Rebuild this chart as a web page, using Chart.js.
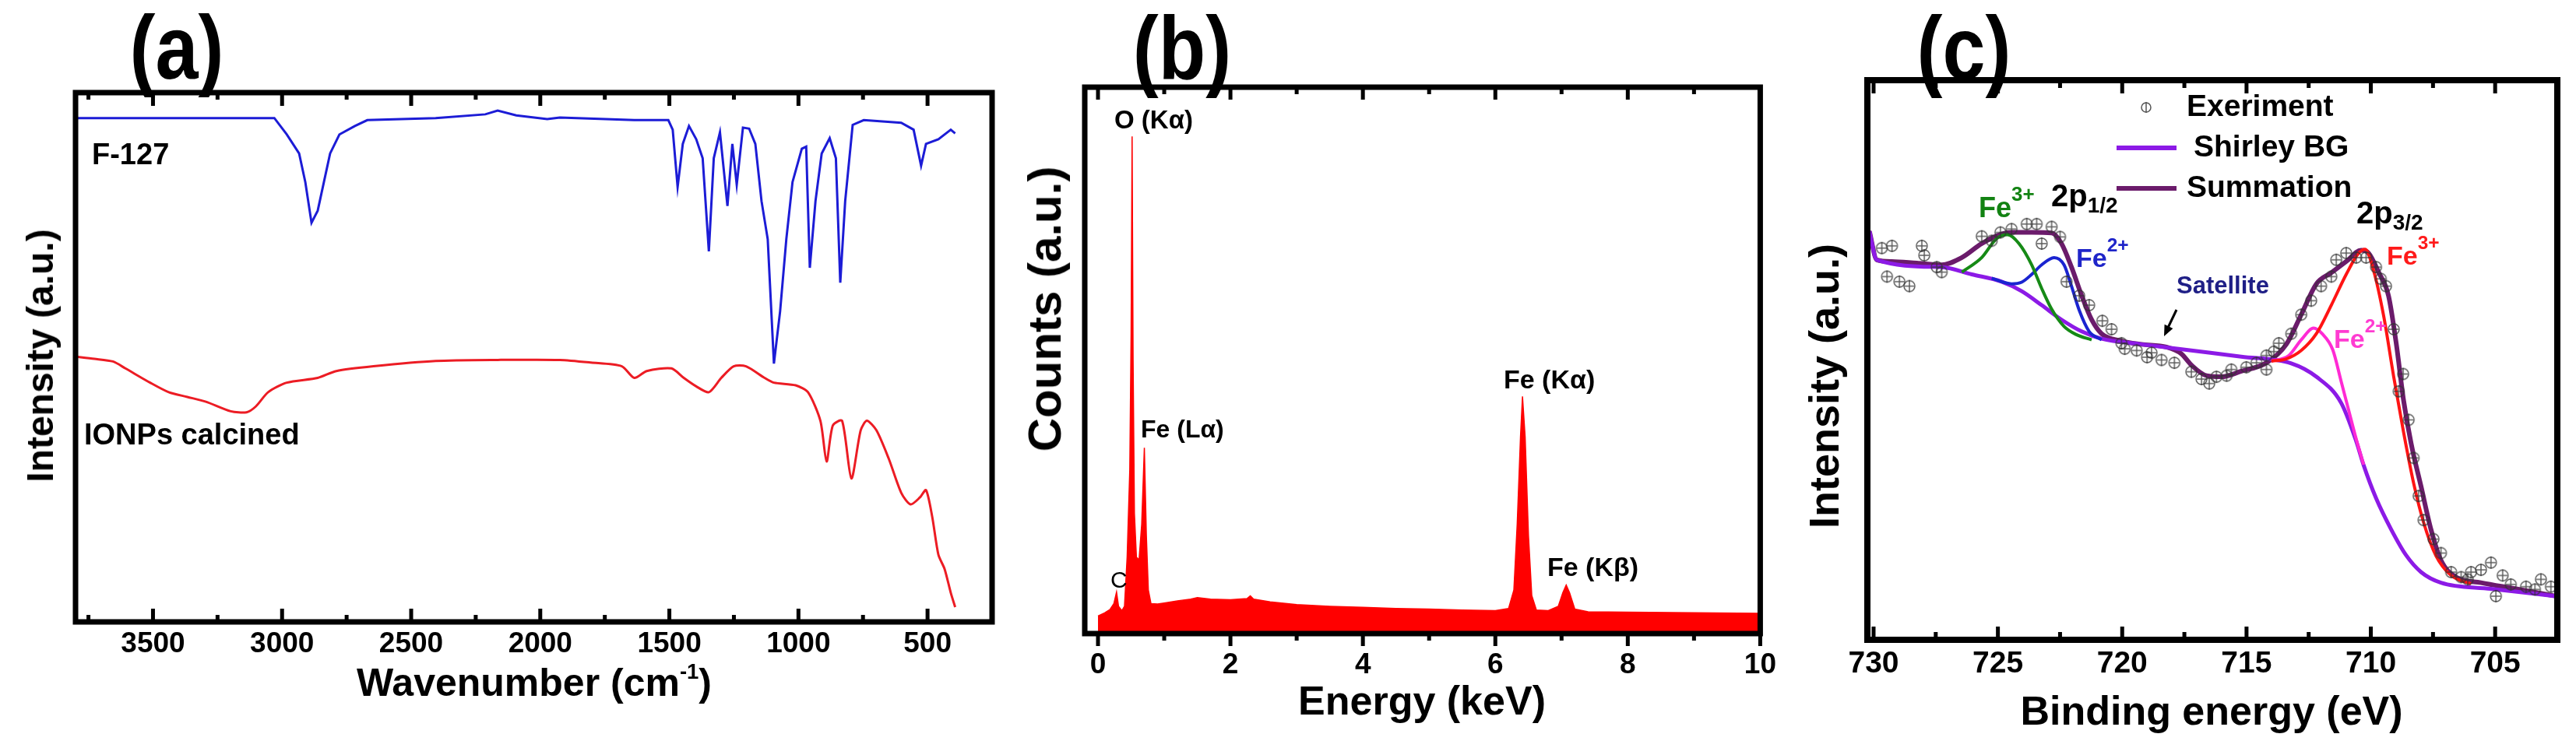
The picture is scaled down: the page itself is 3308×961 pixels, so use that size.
<!DOCTYPE html>
<html>
<head>
<meta charset="utf-8">
<script src="https://cdn.jsdelivr.net/npm/chart.js@4"></script>
<style>
html, body { margin: 0; padding: 0; background: #fff; }
#fig { position: relative; width: 3308px; height: 961px; overflow: hidden;
       font-family: "Liberation Sans", Arial, sans-serif; font-weight: bold; color: #000; }
canvas { position: absolute; top: 0; }
.t { position: absolute; white-space: nowrap; line-height: 1; transform: translateY(-50%); }
.c { position: absolute; white-space: nowrap; line-height: 1; transform: translate(-50%, -50%); }
.v { position: absolute; white-space: nowrap; line-height: 1; transform: translate(-50%, -50%) rotate(-90deg); }
.sup { font-size: 0.72em; position: relative; top: -0.8em; }
.sub { font-size: 0.7em; position: relative; top: 0.3em; }
.lbl { position: absolute; white-space: nowrap; line-height: 1; font-size: 115px;
       transform: translate(-50%, -50%) scaleX(0.86); }
.sw { position: absolute; height: 6px; }
</style>
</head>
<body>
<div id="fig">
  <canvas id="ca" width="1290" height="961" style="left:0"></canvas>
  <canvas id="cb" width="1010" height="961" style="left:1290px"></canvas>
  <canvas id="cc" width="1008" height="961" style="left:2300px"></canvas>

  <!-- panel letters -->
  <div class="lbl" style="left:227px;top:61px">(a)</div>
  <div class="lbl" style="left:1518px;top:62px">(b)</div>
  <div class="lbl" style="left:2522px;top:62px">(c)</div>

  <!-- axis titles -->
  <div class="v" style="left:52px;top:457px;font-size:48px">Intensity (a.u.)</div>
  <div class="c" style="left:686px;top:877px;font-size:50px">Wavenumber (cm<span class="sup" style="font-size:0.55em">-1</span>)</div>
  <div class="v" style="left:1342px;top:397px;font-size:60px">Counts (a.u.)</div>
  <div class="c" style="left:1826px;top:900px;font-size:52px">Energy (keV)</div>
  <div class="v" style="left:2342px;top:496px;font-size:54px">Intensity (a.u.)</div>
  <div class="c" style="left:2840px;top:913px;font-size:52px">Binding energy (eV)</div>

  <!-- (a) labels -->
  <div class="t" style="left:118px;top:198px;font-size:38px">F-127</div>
  <div class="t" style="left:108px;top:558px;font-size:38px">IONPs calcined</div>

  <!-- (b) labels -->
  <div class="t" style="left:1431px;top:153px;font-size:33px">O (Kα)</div>
  <div class="t" style="left:1465px;top:551px;font-size:32px">Fe (Lα)</div>
  <div class="t" style="left:1931px;top:487px;font-size:34px">Fe (Kα)</div>
  <div class="t" style="left:1987px;top:728px;font-size:34px">Fe (Kβ)</div>
  <div class="t" style="left:1426px;top:745px;font-size:30px;font-weight:normal">C</div>

  <!-- (c) legend -->
  <svg style="position:absolute;left:0;top:0" width="3308" height="961">
    <circle cx="2756" cy="138" r="6" fill="none" stroke="#555" stroke-width="1.5"/>
    <line x1="2756" y1="131" x2="2756" y2="145" stroke="#555" stroke-width="1.5"/>
    <line x1="2795" y1="398" x2="2784" y2="421" stroke="#000" stroke-width="3"/>
    <polygon points="2779,432 2790.4,421.9 2779.6,416.7" fill="#000"/>
  </svg>
  <div class="sw" style="left:2718px;top:187px;width:77px;background:#8c1ae6"></div>
  <div class="sw" style="left:2718px;top:239px;width:77px;background:#6b1b6b"></div>
  <div class="t" style="left:2808px;top:135px;font-size:39px">Exeriment</div>
  <div class="t" style="left:2817px;top:187px;font-size:39px">Shirley BG</div>
  <div class="t" style="left:2808px;top:239px;font-size:39px">Summation</div>

  <!-- (c) peak labels -->
  <div class="t" style="left:2541px;top:267px;font-size:36px;color:#128212">Fe<span class="sup">3+</span></div>
  <div class="t" style="left:2634px;top:251px;font-size:40px">2p<span class="sub">1/2</span></div>
  <div class="t" style="left:2666px;top:331px;font-size:34px;color:#1f25c9">Fe<span class="sup">2+</span></div>
  <div class="t" style="left:2795px;top:366px;font-size:31px;color:#1f1f86">Satellite</div>
  <div class="t" style="left:3026px;top:273px;font-size:40px">2p<span class="sub">3/2</span></div>
  <div class="t" style="left:3065px;top:328px;font-size:34px;color:#ff1a1a">Fe<span class="sup">3+</span></div>
  <div class="t" style="left:2997px;top:435px;font-size:34px;color:#ff3bd1">Fe<span class="sup">2+</span></div>
</div>

<script>
// ---- (a) FTIR ----
const ftirTicks = [3500, 3000, 2500, 2000, 1500, 1000, 500];
const ftirMinor = [3750, 3250, 2750, 2250, 1750, 1250, 750];
const f127Wavenumber = [3800,3030,2982,2934,2910,2886,2862,2838,2814,2778,2718,2670,2405,2213,2165,2093,1973,1924,1636,1504,
  1487,1468,1448,1424,1396,1371,1347,1328,1304,1275,1256,1239,1215,1191,1167,1143,1119,1095,1071,1047,
  1023,987,970,956,934,910,879,855,838,819,790,747,602,554,525,506,458,410,393];
const f127Intensity = [95.2,95.2,92.1,88.5,83.1,75.4,77.7,83.1,88.5,92.1,93.7,94.8,95.2,95.9,96.6,95.7,95.0,95.3,94.8,94.8,
  93.0,82.2,90.3,93.7,91.2,87.6,70.0,87.6,92.5,78.6,90.3,82.6,93.4,93.2,90.3,79.5,72.3,48.8,58.7,72.3,
  83.1,89.4,89.8,66.9,79.5,88.5,91.4,87.6,64.1,79.5,93.9,94.8,94.3,93.0,86.2,90.3,91.2,93.0,92.3];
const ionpWavenumber = [3800,3727,3655,3607,3511,3439,3367,3295,3199,3138,3102,3054,2982,2862,2790,2646,2405,2165,1924,1804,
  1684,1636,1588,1492,1444,1396,1347,1299,1251,1203,1131,1095,1011,963,915,891,867,831,795,759,
  735,698,650,602,566,530,506,482,458,434,410,393];
const ionpIntensity = [50.1,49.7,49.2,47.9,45.2,43.4,42.5,41.6,39.8,39.6,40.7,43.4,45.2,46.1,47.4,48.3,49.3,49.5,49.5,49.0,
  48.3,46.1,47.4,47.9,46.1,44.5,43.4,46.1,48.3,48.3,46.1,45.2,44.7,43.4,38.0,30.3,37.1,38.0,27.1,36.2,
  38.0,36.2,30.8,24.4,22.2,23.5,24.9,19.9,12.7,10.0,5.5,2.8];

// ---- (b) EDS ----
const edsTicks = [0, 2, 4, 6, 8, 10];
const edsMinor = [1, 3, 5, 7, 9];
const edsEnergy = [0.00,0.10,0.18,0.24,0.28,0.31,0.36,0.40,0.44,0.48,0.50,0.515,0.53,0.55,0.58,0.62,0.66,0.70,0.73,0.76,0.80,
  0.9,1.0,1.2,1.4,1.5,1.7,2.0,2.25,2.3,2.35,2.6,3.0,3.5,4.0,4.5,5.0,5.5,6.0,6.2,6.28,
  6.33,6.38,6.41,6.45,6.50,6.55,6.62,6.8,6.95,7.02,7.07,7.12,7.2,7.4,8.0,9.0,10.0];
const edsCounts = [3.2,3.8,4.4,5.5,7.6,5.0,4.2,5.0,14,30,55,91,50,22,14,13.5,20,34,18,8,5.5,
  5.4,5.6,6.0,6.3,6.6,6.3,6.2,6.4,6.9,6.3,5.8,5.3,5.0,4.8,4.6,4.5,4.3,4.2,4.6,8,
  20,36,43.4,36,18,7,4.3,4.2,5.0,7.5,8.9,7.5,4.5,4.0,3.9,3.8,3.7];

// ---- (c) XPS Fe 2p ----
const xpsTicks = [730, 725, 720, 715, 710, 705];
const xpsMinor = [727.5, 722.5, 717.5, 712.5, 707.5];
const expBE = [729.67,729.26,729.46,728.96,728.56,728.06,727.96,727.46,727.26,725.65,725.25,
  724.9,724.45,723.84,723.44,722.84,723.24,722.5,722.24,721.73,721.33,720.8,720.43,720.03,
  719.9,719.42,719.0,718.82,718.42,717.9,717.22,716.81,716.5,716.21,715.8,715.61,715.01,714.6,714.20,714.20,
  713.9,713.70,713.20,712.80,712.40,712.00,711.59,711.39,710.99,710.59,710.19,
  709.79,709.6,709.39,709.08,708.88,708.7,708.48,708.28,708.08,707.88,707.48,707.18,
  706.77,706.37,706.1,705.97,705.57,705.17,704.97,704.7,704.37,703.76,703.4,703.16,702.76];
const expIntensity = [70.0,70.4,64.9,64.0,63.2,70.4,68.7,66.6,65.7,72.1,71.3,
  72.8,73.4,74.3,74.3,73.8,70.8,72.0,64.0,61.5,59.8,57.0,55.5,53.0,
  52.0,51.7,50.5,51.3,50.0,49.5,47.9,46.6,45.8,47.0,47.2,48.3,48.7,49.5,48.3,50.8,
  51.5,53.0,54.7,58.1,60.6,63.2,64.9,67.9,69.1,68.3,68.3,
  66.6,64.5,63.2,55.5,44.4,47.5,39.3,32.5,25.7,21.4,18.0,15.5,
  12.1,11.2,10.8,12.1,12.5,13.8,7.8,11.5,9.9,9.5,9.0,10.8,9.5];
const sumBE = [730.17,729.87,729.27,728.26,727.26,726.45,725.65,724.85,724.45,723.64,
  722.84,722.44,722.04,721.63,721.23,720.83,720.03,719.22,718.22,717.62,
  717.22,716.61,716.01,715.21,714.20,713.40,712.80,712.19,711.59,710.99,
  710.39,710.09,709.69,709.29,708.98,708.68,708.38,707.98,707.58,707.18,
  706.57,705.57,704.16,702.56];
const sumIntensity = [73.0,67.9,67.6,67.3,67.0,68.3,70.8,72.5,72.8,72.8,
  72.7,70.8,66.6,61.5,57.2,54.7,53.4,52.8,52.3,51.1,
  49.1,47.2,47.0,48.0,49.5,52.8,58.1,63.6,65.6,67.6,
  69.6,69.1,65.7,61.5,53.0,42.7,35.1,27.4,19.7,14.2,
  11.2,10.2,9.1,7.8];
const bgBE = [730.17,729.87,727.26,726.05,724.85,724.04,723.24,722.44,721.63,720.83,
  719.22,717.22,715.21,713.2,712.19,711.19,710.59,710.29,709.79,709.18,
  708.58,707.98,707.18,705.17,702.56];
const bgIntensity = [73.0,67.9,66.6,65.3,64.0,62.3,59.8,57.2,55.1,53.8,
  52.8,51.7,50.6,49.4,47.0,42.3,35.5,31.2,25.3,19.7,
  15.1,12.1,10.2,9.1,7.8];
const fe3p12BE = [726.45,725.65,725.05,724.61,724.15,723.64,723.24,722.84,722.34,721.83,721.23];
const fe3p12 = [65.7,68.3,71.7,72.4,70.8,67.0,62.8,59.1,56.0,54.5,53.6];
const fe2p12BE = [725.25,724.45,724.04,723.64,723.24,722.74,722.34,722.04,721.73,721.33,720.83];
const fe2p12 = [64.6,63.6,63.9,65.3,67.0,68.3,67.0,63.2,58.9,55.1,53.6];
const fe3p32BE = [714.0,713.40,712.80,712.19,711.59,710.99,710.49,710.23,709.89,709.49,709.08,708.68,708.28,707.88,707.38,706.77,705.97];
const fe3p32 = [49.8,50.2,51.7,54.7,59.8,65.3,69.1,69.8,66.0,58.0,47.0,37.0,28.0,21.0,15.0,11.5,10.0];
const fe2p32BE = [714.0,713.3,712.8,712.3,711.96,711.53,711.19,710.89,710.59,710.29];
const fe2p32 = [49.8,50.8,53.6,55.7,54.7,51.8,46.1,41.0,35.9,31.3];

Chart.defaults.font.family = '"Liberation Sans", Arial, sans-serif';
Chart.defaults.color = '#000';

// box round the plot with inward/outward tick marks on top and bottom
const frame = {
  id: 'frame',
  afterDraw(chart, args, o) {
    const { ctx, chartArea: a, scales: { x } } = chart;
    ctx.save();
    ctx.strokeStyle = '#000';
    ctx.lineCap = 'butt';
    ctx.lineWidth = o.tickWidth;
    const marks = (vals, len) => vals.forEach(v => {
      const px = x.getPixelForValue(v);
      ctx.beginPath();
      ctx.moveTo(px, a.bottom);
      ctx.lineTo(px, a.bottom + (o.bottomOut ? len : -len));
      ctx.moveTo(px, a.top);
      ctx.lineTo(px, a.top + len);
      ctx.stroke();
    });
    marks(x.ticks.map(t => t.value), o.majorLen);
    marks(o.minor, o.minorLen);
    ctx.lineWidth = o.width;
    ctx.strokeRect(a.left, a.top, a.right - a.left, a.bottom - a.top);
    ctx.restore();
  }
};

function pts(xs, ys) { return xs.map((x, i) => ({ x, y: ys[i] })); }

function line(data, color, width, extra) {
  return Object.assign({ data, borderColor: color, backgroundColor: color, borderWidth: width,
    pointRadius: 0, tension: 0, fill: false }, extra || {});
}

function opts(c) {
  return {
    responsive: false, animation: false, devicePixelRatio: 1,
    layout: { padding: c.pad },
    plugins: { legend: { display: false }, tooltip: { enabled: false }, frame: c.frame },
    scales: {
      x: {
        type: 'linear', min: c.min, max: c.max, reverse: c.reverse,
        grid: { display: false, drawTicks: false }, border: { display: false },
        afterBuildTicks: s => { s.ticks = c.ticks.map(v => ({ value: v })); },
        afterFit: s => { s.height = c.h; },
        ticks: { color: '#000', autoSkip: false, maxRotation: 0, padding: c.tickPad,
          font: { weight: 'bold', size: c.size }, callback: v => String(v) }
      },
      y: {
        type: 'linear', min: 0, max: 100,
        grid: { display: false, drawTicks: false }, border: { display: false },
        ticks: { display: false },
        afterFit: s => { s.width = c.w; }
      }
    }
  };
}

// (a)
new Chart(document.getElementById('ca'), {
  type: 'line',
  data: { datasets: [
    line(pts(f127Wavenumber, f127Intensity), '#1c1cd6', 3),
    line(pts(ionpWavenumber, ionpIntensity), '#ec1c24', 3, { tension: 0.25 })
  ] },
  options: opts({ pad: { left: 0, top: 119, right: 16, bottom: 0 }, w: 97, h: 162,
    min: 250, max: 3800, reverse: true, ticks: ftirTicks, size: 37, tickPad: 7,
    frame: { width: 7, tickWidth: 5, majorLen: 17, minorLen: 9, minor: ftirMinor, bottomOut: false } }),
  plugins: [frame]
});

// (b)
new Chart(document.getElementById('cb'), {
  type: 'line',
  data: { datasets: [
    line(pts(edsEnergy, edsCounts), '#ff0000', 1.5, { fill: 'origin' })
  ] },
  options: opts({ pad: { left: 0, top: 112, right: 37, bottom: 0 }, w: 103, h: 147,
    min: -0.2, max: 10, reverse: false, ticks: edsTicks, size: 37, tickPad: 19,
    frame: { width: 7, tickWidth: 5, majorLen: 16, minorLen: 9, minor: edsMinor, bottomOut: true } }),
  plugins: [frame]
});

// (c)
const mk = document.createElement('canvas');
mk.width = mk.height = 20;
const m = mk.getContext('2d');
m.strokeStyle = 'rgba(50,50,50,0.8)';
m.lineWidth = 1.5;
m.beginPath(); m.arc(10, 10, 7, 0, 2 * Math.PI); m.stroke();
m.beginPath(); m.moveTo(10, 2); m.lineTo(10, 18); m.moveTo(4, 10); m.lineTo(16, 10); m.stroke();

const smooth = { cubicInterpolationMode: 'monotone' };
new Chart(document.getElementById('cc'), {
  type: 'line',
  data: { datasets: [
    { data: pts(expBE, expIntensity), showLine: false, pointStyle: mk, pointRadius: 10 },
    line(pts(fe3p12BE, fe3p12), '#168a16', 4, smooth),
    line(pts(fe2p12BE, fe2p12), '#1a24d0', 4, smooth),
    line(pts(fe3p32BE, fe3p32), '#ff1414', 4, smooth),
    line(pts(fe2p32BE, fe2p32), '#ff2ad4', 4, smooth),
    line(pts(bgBE, bgIntensity), '#8c1ae6', 5, smooth),
    line(pts(sumBE, sumIntensity), '#6b1b6b', 6, smooth)
  ] },
  options: opts({ pad: { left: 0, top: 103, right: 24, bottom: 0 }, w: 98, h: 139,
    min: 702.5, max: 730.25, reverse: true, ticks: xpsTicks, size: 39, tickPad: 8,
    frame: { width: 8, tickWidth: 5, majorLen: 17, minorLen: 10, minor: xpsMinor, bottomOut: false } }),
  plugins: [frame]
});
</script>
</body>
</html>
